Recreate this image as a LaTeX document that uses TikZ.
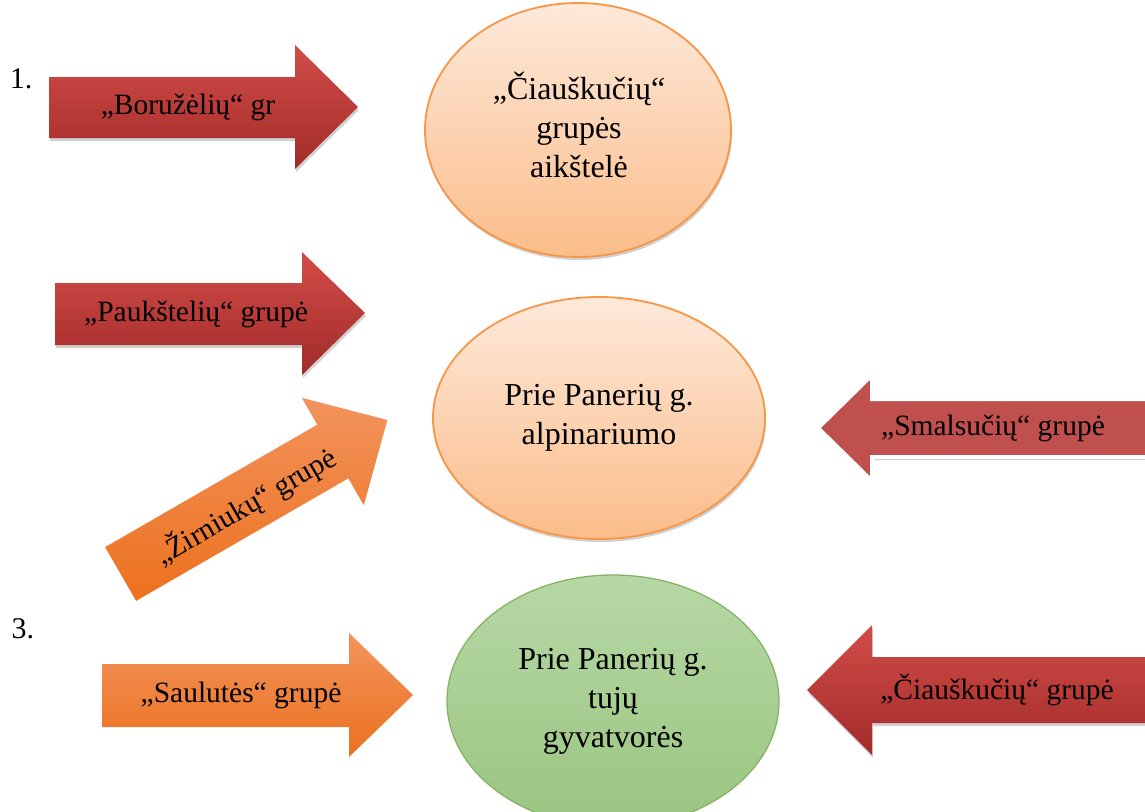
\documentclass[tikz,border=0pt]{standalone}
\usepackage{fontspec}
\setmainfont{Liberation Serif}
\usetikzlibrary{shapes.geometric,shadows}
\definecolor{redTop}{HTML}{D24C48}
\definecolor{redBot}{HTML}{A12B29}
\definecolor{redFlat}{HTML}{C0504D}
\definecolor{orgTop}{HTML}{F2935C}
\definecolor{orgBot}{HTML}{EC711E}
\definecolor{peachTop}{HTML}{FDE9DA}
\definecolor{peachBot}{HTML}{FBBD8A}
\definecolor{peachLine}{HTML}{F79646}
\definecolor{greenTop}{HTML}{B7D8A6}
\definecolor{greenBot}{HTML}{9AC580}
\definecolor{greenLine}{HTML}{86B467}
\newcommand{\myEllFont}{\fontsize{32}{39}\selectfont}
\newcommand{\myArrFont}{\fontsize{29.5}{35}\selectfont}
\tikzset{
  softshadow/.style={drop shadow={opacity=0.18, shadow xshift=1pt, shadow yshift=-3pt, fill=black}},
  redarrow/.style={top color=redTop, bottom color=redBot, draw=none, softshadow},
  orangearrow/.style={top color=orgTop, bottom color=orgBot, draw=none},
  outlinedarrow/.style={fill=redFlat, draw=white, line width=4pt, line join=miter,
     drop shadow={opacity=0.22, shadow xshift=1.5pt, shadow yshift=-3pt, fill=black}},
  arrowtext/.style={inner sep=0pt, font=\myArrFont, text=black},
  numtext/.style={inner sep=0pt, font=\fontsize{30}{36}\selectfont},
  elltext/.style={inner sep=0pt, align=center, font=\myEllFont},
  peachell/.style={ellipse, draw=peachLine, line width=1.8pt, top color=peachTop, bottom color=peachBot,
     inner sep=0pt, align=center, font=\myEllFont, softshadow},
  greenell/.style={ellipse, draw=greenLine, line width=1.3pt, top color=greenTop, bottom color=greenBot,
     inner sep=0pt, align=center, font=\myEllFont}
}
\begin{document}
\begin{tikzpicture}[x=1pt,y=-1pt]
\useasboundingbox (0,0) rectangle (1145,811);
\clip (0,0) rectangle (1145,811);
\fill[white] (0,0) rectangle (1145,811);

% ellipses
\node[peachell, minimum width=306pt, minimum height=254pt] (e1) at (578,130) {};
\node[elltext] (e1text) at (579,125) {„Čiauškučių“\\grupės\\aikštelė};
\node[peachell, minimum width=332pt, minimum height=242pt] (e2) at (599,418)
  {Prie Panerių g.\\alpinariumo};
\node[greenell, minimum width=332pt, minimum height=252pt] (e3) at (613,701)
  {Prie Panerių g.\\tujų\\gyvatvorės};

% numbers
\node[numtext] (n1) at (21,79) {1.};
\node[numtext] (n3) at (23,629) {3.};

% arrow 1
\path[redarrow] (49,77) -- (295,77) -- (295,45) -- (358,107) -- (295,169) -- (295,138) -- (49,138) -- cycle;
\node[arrowtext] (a1) at (188,107) {„Boružėlių“ gr};

% arrow 2
\path[redarrow] (55,283) -- (302,283) -- (302,252) -- (365,313) -- (302,375) -- (302,345) -- (55,345) -- cycle;
\node[arrowtext] (a2) at (196,314) {„Paukštelių“ grupė};

% arrow 3 (rotated)
\begin{scope}[shift={(254,497)}, rotate=30]
\path[orangearrow] (-154,-31) -- (91,-31) -- (91,-62) -- (154,0) -- (91,62) -- (91,31) -- (-154,31) -- cycle;
\node[arrowtext, rotate=30] (a3) at (-12,4) {„Žirniukų“ grupė};
\end{scope}

% arrow 4
\path[outlinedarrow] (1170,399) -- (872,399) -- (872,375) -- (818,428) -- (872,481) -- (872,457) -- (1170,457) -- cycle;
\node[arrowtext] (a4) at (993,428) {„Smalsučių“ grupė};

% arrow 5
\path[orangearrow] (102,664) -- (349,664) -- (349,633) -- (413,695) -- (349,757) -- (349,727) -- (102,727) -- cycle;
\node[arrowtext] (a5) at (241,695) {„Saulutės“ grupė};

% arrow 6
\path[redarrow] (1170,657) -- (872,657) -- (872,625) -- (807,690) -- (872,755) -- (872,723) -- (1170,723) -- cycle;
\node[arrowtext] (a6) at (997,690) {„Čiauškučių“ grupė};
\end{tikzpicture}
\end{document}
